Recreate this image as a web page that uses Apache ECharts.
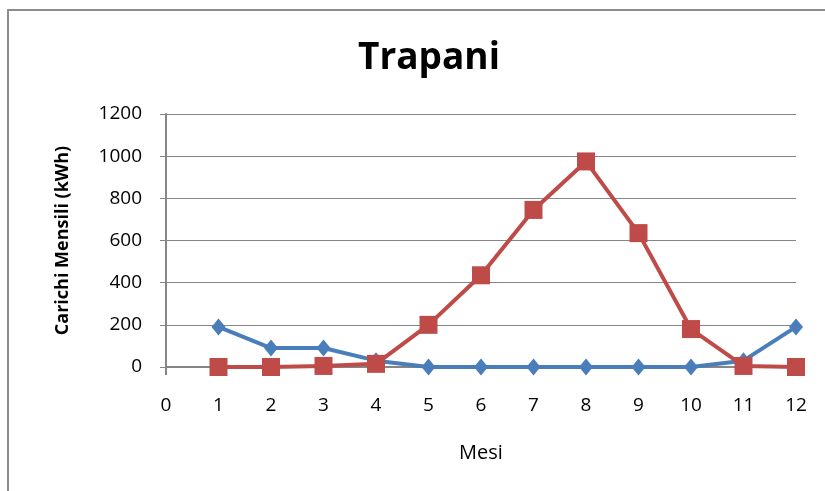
<!DOCTYPE html>
<html>
<head>
<meta charset="utf-8">
<script src="https://cdn.jsdelivr.net/npm/echarts@6/dist/echarts.min.js"></script>
<style>
  html, body { margin: 0; padding: 0; background: #fff; }
  #chart { width: 825px; height: 491px; }
</style>
</head>
<body>
<div id="chart"></div>
<script>
// mesi e carichi mensili (kWh)
const mesi = [1, 2, 3, 4, 5, 6, 7, 8, 9, 10, 11, 12];
const riscaldamento = [190, 90, 90, 30, 0, 0, 0, 0, 0, 0, 30, 190];
const raffrescamento = [0, 0, 5, 15, 200, 435, 745, 975, 635, 180, 5, 0];

const chart = echarts.init(document.getElementById("chart"));
const font = "'Open Sans', sans-serif";

chart.setOption({
  animation: false,
  backgroundColor: "#fff",
  graphic: [
    {
      type: "rect",
      shape: { x: 8, y: 10, width: 830, height: 500 },
      style: { fill: "none", stroke: "#8c8c8c", lineWidth: 2 },
      silent: true
    }
  ],
  title: {
    text: "Trapani",
    left: 424,
    textAlign: "center",
    top: 35,
    textStyle: { fontFamily: font, fontSize: 37, fontWeight: "bold", color: "#000" }
  },
  grid: { left: 166, right: 29, top: 114, bottom: 124 },
  xAxis: {
    type: "value",
    min: 0,
    max: 12,
    interval: 1,
    name: "Mesi",
    nameLocation: "middle",
    nameGap: 76,
    nameTextStyle: { fontFamily: font, fontSize: 20, color: "#000" },
    axisLine: { show: true, onZero: true, lineStyle: { color: "#868686", width: 2 } },
    axisTick: { show: true, customValues: [0], length: 8, lineStyle: { color: "#868686", width: 2 } },
    axisLabel: { margin: 29, fontFamily: font, fontSize: 19, color: "#000" },
    splitLine: { show: false }
  },
  yAxis: {
    type: "value",
    min: 0,
    max: 1200,
    interval: 200,
    name: "Carichi Mensili (kWh)",
    nameLocation: "middle",
    nameGap: 94,
    nameRotate: 90,
    nameTextStyle: { fontFamily: font, fontSize: 18, fontWeight: "bold", color: "#000" },
    axisLine: { show: true, lineStyle: { color: "#868686", width: 2 } },
    axisTick: { show: true, inside: false, length: 6, lineStyle: { color: "#868686" } },
    axisLabel: { margin: 24, fontFamily: font, fontSize: 19, color: "#000", formatter: v => String(v) },
    splitLine: { show: true, lineStyle: { color: "#868686", width: 1 } }
  },
  series: [
    {
      name: "Riscaldamento",
      type: "line",
      data: mesi.map((m, i) => [m, riscaldamento[i]]),
      symbol: "diamond",
      symbolSize: [14, 17],
      itemStyle: { color: "#4a7ebb" },
      lineStyle: { color: "#4a7ebb", width: 4 },
      z: 2
    },
    {
      name: "Raffrescamento",
      type: "line",
      data: mesi.map((m, i) => [m, raffrescamento[i]]),
      symbol: "rect",
      symbolSize: 18,
      itemStyle: { color: "#be4b48" },
      lineStyle: { color: "#be4b48", width: 4 },
      z: 3
    }
  ]
});
</script>
</body>
</html>
